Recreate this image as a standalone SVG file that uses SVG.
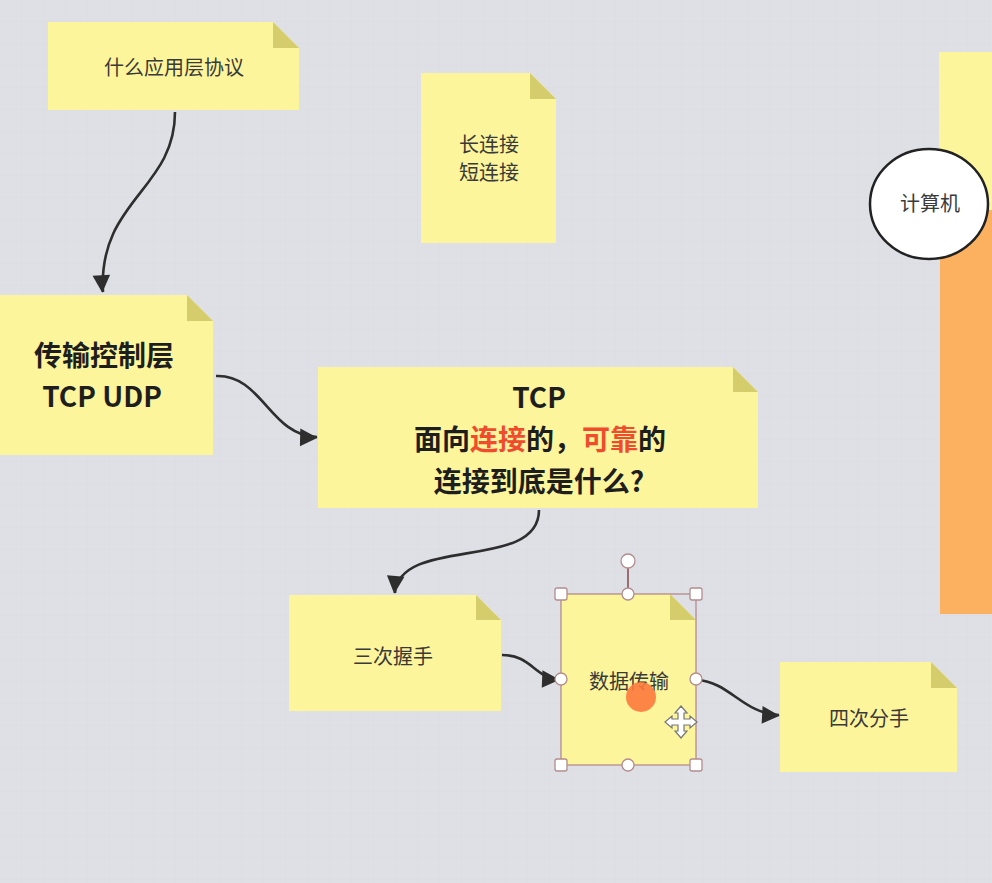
<svg xmlns="http://www.w3.org/2000/svg" width="992" height="883" viewBox="0 0 992 883">
<style>
.note{fill:#fdf59c}
.fold{fill:#d5cd6b}
.t{font-family:"Noto Sans CJK SC","Noto Sans",sans-serif;fill:#3a3a3a;text-anchor:middle;font-size:20px}
.b{font-family:"Noto Sans CJK SC","Noto Sans",sans-serif;fill:#1e1e1e;text-anchor:middle;font-weight:bold;font-size:28px}
.red{fill:#f04b2c}
.conn path{fill:none;stroke:#2e2e2e;stroke-width:2.6}
.hs{fill:#fff;stroke:#b48c8c;stroke-width:1.3}
</style>
<defs>
<marker id="ah" viewBox="0 0 10 10" refX="9" refY="5" markerWidth="8" markerHeight="8" markerUnits="userSpaceOnUse" orient="auto" overflow="visible">
<path d="M0,0 L10,5 L0,10 z" fill="#2e2e2e" transform="scale(2.2) translate(-5.5,-2.3)"/>
</marker>
<pattern id="grid" width="22" height="22" patternUnits="userSpaceOnUse">
<path d="M22,0 V22 H0" fill="none" stroke="#d6d7dc" stroke-width="1"/>
</pattern>
</defs>
<rect width="992" height="883" fill="#dfe0e5"/>
<rect width="992" height="883" fill="url(#grid)" opacity="0.6"/>

<g id="right-panel">
<rect x="939" y="52" width="53" height="160" fill="#fdf59c"/>
<rect x="940" y="210" width="52" height="404" fill="#fbb160"/>
</g>
<g id="computer">
<ellipse cx="929" cy="204" rx="59" ry="55" fill="#fff" stroke="#222" stroke-width="2.5"/>
<text class="t" x="930" y="211">计算机</text>
</g>

<g id="n-app">
<path class="note" d="M48,22 H273 L299,48 V110 H48 Z"/>
<path class="fold" d="M273,22 L299,48 H273 Z"/>
<text class="t" x="174" y="75">什么应用层协议</text>
</g>

<g id="n-conn">
<path class="note" d="M421,73 H530 L556,99 V243 H421 Z"/>
<path class="fold" d="M530,73 L556,99 H530 Z"/>
<text class="t" x="489" y="152" font-size="19">长连接</text>
<text class="t" x="489" y="180" font-size="19">短连接</text>
</g>

<g id="n-transport">
<path class="note" d="M0,295 H187 L213,321 V455 H0 Z"/>
<path class="fold" d="M187,295 L213,321 H187 Z"/>
<text class="b" x="104" y="366">传输控制层</text>
<text class="b" x="102" y="407">TCP UDP</text>
</g>

<g id="n-tcp">
<path class="note" d="M318,367 H733 L758,392 V508 H318 Z"/>
<path class="fold" d="M733,367 L758,392 H733 Z"/>
<text class="b" x="539" y="408">TCP</text>
<text class="b" x="540" y="450">面向<tspan class="red">连接</tspan>的，<tspan class="red">可靠</tspan>的</text>
<text class="b" x="539" y="492">连接到底是什么?</text>
</g>

<g id="n-three">
<path class="note" d="M289,595 H476 L501,620 V711 H289 Z"/>
<path class="fold" d="M476,595 L501,620 H476 Z"/>
<text class="t" x="393" y="664">三次握手</text>
</g>

<g id="n-data">
<path class="note" d="M561,594 H670 L696,620 V765 H561 Z"/>
<path class="fold" d="M670,594 L696,620 H670 Z"/>
<text class="t" x="629" y="689">数据传输</text>
</g>

<g id="n-four">
<path class="note" d="M780,662 H931 L957,688 V772 H780 Z"/>
<path class="fold" d="M931,662 L957,688 H931 Z"/>
<text class="t" x="869" y="726">四次分手</text>
</g>

<g id="conn" class="conn">
<path d="M175,112 C175,190 98,200 103,292" marker-end="url(#ah)"/>
<path d="M216,376 C262,374 270,436 317,437" marker-end="url(#ah)"/>
<path d="M539,510 C539,572 400,535 395,593" marker-end="url(#ah)"/>
<path d="M502,655 C532,655 534,678 559,679" marker-end="url(#ah)"/>
<path d="M697,680 C730,682 742,713 779,715" marker-end="url(#ah)"/>
</g>

<g id="selection">
<rect x="561" y="594" width="135" height="171" fill="none" stroke="#b48c8c" stroke-width="1.3"/>
<line x1="628" y1="568" x2="628" y2="594" stroke="#9a6e6e" stroke-width="2"/>
<circle class="hs" cx="628" cy="561" r="7"/>
<rect class="hs" x="555" y="588" width="12" height="12" rx="2"/>
<rect class="hs" x="690" y="588" width="12" height="12" rx="2"/>
<rect class="hs" x="555" y="759" width="12" height="12" rx="2"/>
<rect class="hs" x="690" y="759" width="12" height="12" rx="2"/>
<circle class="hs" cx="628" cy="594" r="6"/>
<circle class="hs" cx="561" cy="679" r="6"/>
<circle class="hs" cx="696" cy="679" r="6"/>
<circle class="hs" cx="628" cy="765" r="6"/>
<circle cx="641" cy="697" r="15" fill="#fd7a3e" opacity="0.9"/>
<path d="M681,706 L687,713 H684 V719 H690 V716 L697,722 L690,728 V725 H684 V731 H687 L681,738 L675,731 H678 V725 H672 V728 L665,722 L672,716 V719 H678 V713 H675 Z" fill="#fff" stroke="#777" stroke-width="1.2"/>
</g>
</svg>
